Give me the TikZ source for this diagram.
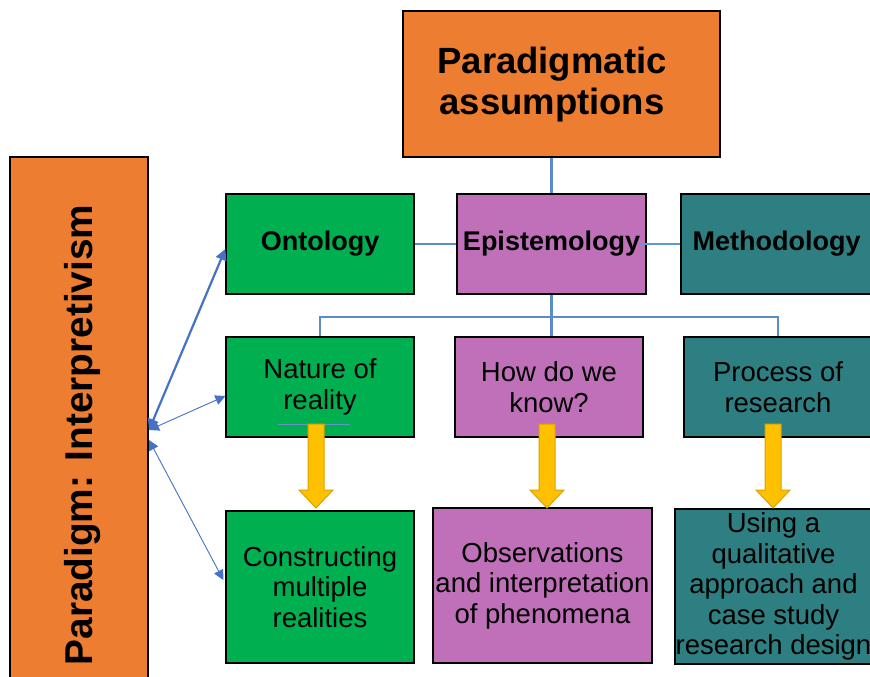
\documentclass[tikz,border=0pt]{standalone}
\usepackage{fontspec}
\setmainfont{Liberation Sans}
\usetikzlibrary{arrows.meta,calc}
\definecolor{porange}{HTML}{ED7D31}
\definecolor{pgreen}{HTML}{00B050}
\definecolor{ppurple}{HTML}{BF70B8}
\definecolor{pteal}{HTML}{2E7F82}
\definecolor{pyellow}{HTML}{FFC000}
\definecolor{pyedge}{HTML}{D9A200}
\definecolor{linkblue}{HTML}{5B8BC9}
\definecolor{arrowblue}{HTML}{4472C4}
\definecolor{thinblue}{HTML}{5B9BD5}
\begin{document}
\begin{tikzpicture}[x=1pt,y=-1pt,
  box/.style={draw=black, line width=1.3pt, inner sep=0pt, align=center},
  headfont/.style={font=\fontsize{27}{30}\selectfont\bfseries},
  bodyfont/.style={font=\fontsize{27.5}{30.5}\selectfont},
  link/.style={draw=linkblue, line width=2.1pt},
  thinlink/.style={draw=thinblue, line width=1.1pt},
  bigtip/.style={arrowblue, line width=2.2pt, {Triangle[length=11pt,width=11pt]}-{Triangle[length=11pt,width=11pt]}},
  smalltip/.style={arrowblue, line width=0.9pt, {Triangle[length=10pt,width=10pt]}-{Triangle[length=10pt,width=10pt]}},
  fatdown/.pic={\filldraw[fill=pyellow, draw=pyedge, line width=1pt]
    (-8,0) -- (8,0) -- (8,66) -- (17,66) -- (0,84) -- (-17,66) -- (-8,66) -- cycle;}
]
\useasboundingbox (0,0) rectangle (870,677);

% top heading and left banner
\node[box, fill=porange, minimum width=317pt, minimum height=146pt] (top) at (561.5,84) {};
\node[font=\fontsize{36.5}{41}\selectfont\bfseries, align=center] (toptext) at (552,85) {Paradigmatic\\assumptions};
\node[box, fill=porange, minimum width=138pt, minimum height=543pt] (left) at (79,428.5) {};
\node[font=\fontsize{38.8}{44}\selectfont\bfseries, rotate=90] (lefttext) at (83,435) {Paradigm: Interpretivism};

% first row
\node[box, headfont, fill=pgreen, minimum width=188pt, minimum height=100pt] (onto) at (320,244) {Ontology};
\node[box, headfont, fill=ppurple, minimum width=189pt, minimum height=100pt] (epi) at (551.5,244) {Epistemology};
\node[box, headfont, fill=pteal, minimum width=191pt, minimum height=100pt] (meth) at (776.5,244) {Methodology};

% second row
\node[box, bodyfont, fill=pgreen, minimum width=188pt, minimum height=100pt] (nature) at (320,387) {Nature of\\reality};
\node[box, bodyfont, fill=ppurple, minimum width=188pt, minimum height=100pt] (how) at (549,387) {How do we\\know?};
\node[box, bodyfont, fill=pteal, minimum width=188pt, minimum height=100pt] (process) at (778,387) {Process of\\research};

% third row
\node[box, bodyfont, fill=pgreen, minimum width=188pt, minimum height=152pt] (construct) at (320,587) {Constructing\\multiple\\realities};
\node[box, bodyfont, fill=ppurple, minimum width=219pt, minimum height=155pt] (observe) at (542.5,585.5) {Observations\\and interpretation\\of phenomena};
\node[box, bodyfont, fill=pteal, minimum width=197pt, minimum height=155pt] (design) at (773.5,586.5) {Using a\\qualitative\\approach and\\case study\\research design};

% tree connectors
\coordinate (bus) at ($(epi.south)+(0,22)$);
\draw[link] (epi.north) -- (epi.north |- top.south);
\draw[link] (onto.east) -- (epi.west);
\draw[link] (epi.south) -- (bus);
\draw[link] (nature.north) |- (bus) -| (process.north);
\draw[link] (bus) -- (bus |- how.north);
\draw[thinlink] ($(epi.east)+(-8,0)$) -- (meth.west);

% links from the banner
\coordinate (hubA) at (149,430);
\coordinate (hubB) at (149,440);
\draw[bigtip] (hubA) -- ($(onto.west)+(0,5)$);
\draw[smalltip] (hubA) -- ($(nature.west)+(0,9)$);
\draw[smalltip] (hubB) -- ($(construct.west)+(-2,-7)$);

% underline and downward arrows
\draw[thinblue!80!gray, line width=1pt] (278,424) -- (350,424);
\pic at (316,424) {fatdown};
\pic at (547,424) {fatdown};
\pic at (773,424) {fatdown};
\end{tikzpicture}
\end{document}
